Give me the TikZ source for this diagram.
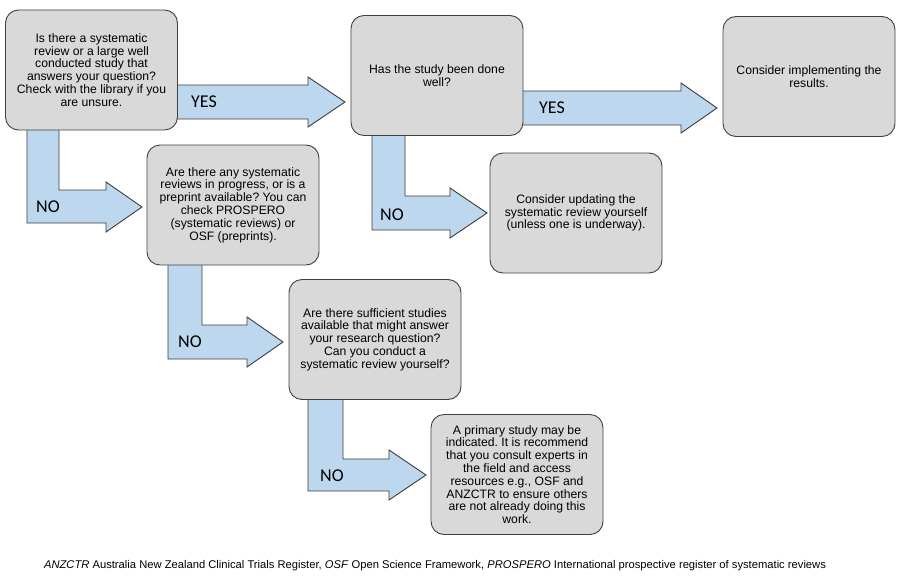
\documentclass[tikz,border=0pt]{standalone}
\usepackage{fontspec}
\setmainfont{Liberation Sans}
\newfontfamily\calib{Carlito}
\usetikzlibrary{calc}
\frenchspacing
\definecolor{boxfill}{HTML}{D9D9D9}
\definecolor{boxline}{HTML}{404040}
\definecolor{arrfill}{HTML}{BDD7EE}
\definecolor{arrline}{HTML}{3C3C3C}
\begin{document}
\begin{tikzpicture}[x=1pt,y=-1pt,
  box/.style={draw=boxline, line width=0.9pt, fill=boxfill, rounded corners=13pt,
    minimum width=172pt, minimum height=120pt, align=center, inner sep=0pt,
    font=\fontsize{12.2}{12.8}\selectfont,
    append after command={
      \pgfextra{\let\lastbox\tikzlastnode}
      [draw=white, draw opacity=0.65, line width=1.6pt, rounded corners=10.5pt]
      ($(\lastbox.south west)+(2.6,-2.6)$) rectangle ($(\lastbox.north east)+(-2.6,2.6)$)
    }},
  blockarrow/.style={draw=arrline, line width=0.9pt, fill=arrfill, line join=miter},
  lbl/.style={font=\calib\fontsize{18}{20}\selectfont, text=black, inner sep=0pt},
  fnote/.style={font=\fontsize{11.2}{13}\selectfont, inner sep=0pt}]
\useasboundingbox (0,0) rectangle (902,578);
% block arrows (drawn first, boxes lie over their tails)
\draw[blockarrow] (170,85) -- (308,85) -- (308,77) -- (345,102) -- (308,127) -- (308,119) -- (170,119) -- cycle;
\draw[blockarrow] (515,91) -- (681,91) -- (681,83) -- (717,108) -- (681,133) -- (681,125) -- (515,125) -- cycle;
\draw[blockarrow] (27,120) -- (59,120) -- (59,190) -- (106,190) -- (106,182) -- (142,207) -- (106,232) -- (106,223) -- (27,223) -- cycle;
\draw[blockarrow] (372,130) -- (405,130) -- (405,196) -- (450,196) -- (450,188) -- (487,213) -- (450,238) -- (450,230) -- (372,230) -- cycle;
\draw[blockarrow] (168,255) -- (202,255) -- (202,325) -- (247,325) -- (247,317) -- (283,342) -- (247,367) -- (247,359) -- (168,359) -- cycle;
\draw[blockarrow] (308,390) -- (343,390) -- (343,459) -- (389,459) -- (389,450) -- (426,475) -- (389,500) -- (389,491) -- (308,491) -- cycle;
% boxes
\node[box] (b1) at (91.5,70) {Is there a systematic\\review or a large well\\conducted study that\\answers your question?\\Check with the library if you\\are unsure.};
\node[box] (b2) at (437,75.5) {Has the study been done\\well?};
\node[box] (b3) at (809,76.5) {Consider implementing the\\results.};
\node[box] (b4) at (233,205) {Are there any systematic\\reviews in progress, or is a\\preprint available? You can\\check PROSPERO\\(systematic reviews) or\\OSF (preprints).};
\node[box] (b5) at (576,213) {Consider updating the\\systematic review yourself\\(unless one is underway).};
\node[box] (b6) at (375,339.5) {Are there sufficient studies\\available that might answer\\your research question?\\Can you conduct a\\systematic review yourself?};
\node[box] (b7) at (517,474.5) {A primary study may be\\indicated. It is recommend\\that you consult experts in\\the field and access\\resources e.g., OSF and\\ANZCTR to ensure others\\are not already doing this\\work.};
% labels
\node[lbl] (yes1) at (204,102) {YES};
\node[lbl] (yes2) at (552,108) {YES};
\node[lbl] (no1) at (48,207) {NO};
\node[lbl] (no2) at (392,215) {NO};
\node[lbl] (no3) at (190,342) {NO};
\node[lbl] (no4) at (332,476) {NO};
% footnote
\node[fnote] (fn) at (435,566) {\textit{ANZCTR} Australia New Zealand Clinical Trials Register, \textit{OSF} Open Science Framework, \textit{PROSPERO} International prospective register of systematic reviews};
\end{tikzpicture}
\end{document}
